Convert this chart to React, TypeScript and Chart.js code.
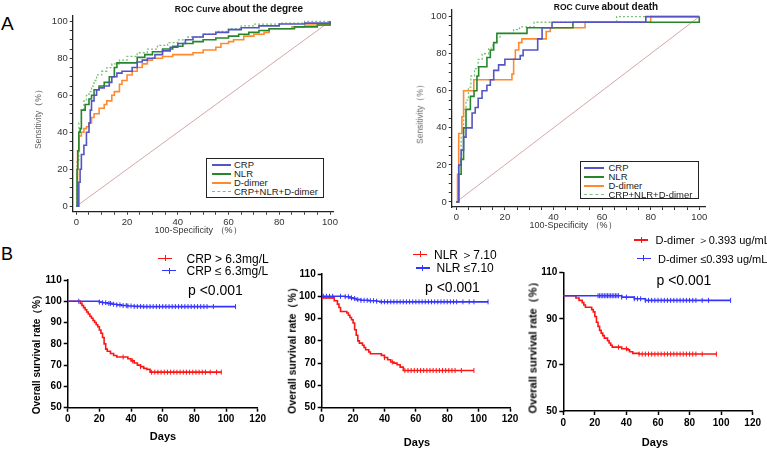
import React, { useEffect, useRef } from "react";
import { Chart, registerables } from "chart.js";
Chart.register(...registerables);

type P = [number, number];

// ---------------- Panel A: ROC curves ----------------
const rocTicks = [0, 5, 10, 15, 20, 25, 30, 35, 40, 45, 50, 55, 60, 65, 70, 75, 80, 85, 90, 95, 100];
const rocSeriesNames = ["CRP", "NLR", "D-dimer", "CRP+NLR+D-dimer"];
const rocDiagonal: P[] = [[0, 0], [100, 100]];

const degreeCRP: P[] = [[0, 0], [1, 13], [1.5, 20], [2, 28], [3, 33], [4, 40], [5, 45], [5.5, 52], [6, 57], [7, 60], [8, 63], [9, 64], [11, 65], [13, 67], [14, 70], [16, 72], [18, 73], [20, 73], [22, 75], [24, 78], [26, 79], [28, 80], [31, 82], [34, 84], [37, 86], [40, 88], [43, 90], [46, 91.5], [50, 93], [55, 94], [60, 95.5], [65, 96.5], [72, 97.5], [80, 98.5], [90, 99], [100, 100]];
const degreeNLR: P[] = [[0, 0], [0.3, 20], [0.6, 30], [1, 40], [1.5, 42], [2, 52], [3.5, 55], [5, 58], [6, 60], [7, 63], [9, 65], [11, 67], [13, 70], [15, 75], [16, 77.5], [23, 77.5], [24, 80.5], [27, 82], [30, 83.5], [34, 85], [38, 86.5], [42, 88], [46, 89], [50, 90], [55, 91], [60, 92], [64, 93], [68, 94], [72, 95], [76, 96], [86, 97], [95, 98], [100, 100]];
const degreeDD: P[] = [[0, 0], [0.5, 30], [1, 38], [2, 40], [3, 42], [4, 43], [5, 45], [6, 48], [7, 50], [9, 53], [11, 55], [12, 57], [14, 60], [15, 62], [17, 66], [18, 68], [20, 71], [22, 73], [24, 75], [26, 77], [28, 79], [30, 80], [34, 81], [38, 82], [46, 83], [50, 84.5], [55, 86], [57, 88], [60, 89], [62, 90], [66, 92], [70, 93], [74, 94], [76, 96], [85, 97], [90, 98], [100, 100]];
const degreeComb: P[] = [[0, 0], [0.3, 25], [1, 45], [2, 52], [3, 57], [4, 60], [5, 62], [6, 65], [7, 68], [8, 71], [10, 73], [12, 75], [14, 77], [17, 79], [20, 81], [24, 83], [28, 85], [32, 87], [36, 88.5], [40, 90], [44, 91.5], [50, 93], [55, 94.5], [60, 96], [65, 97.5], [70, 98.5], [80, 99], [90, 100], [100, 100]];

const deathCRP: P[] = [[0, 0], [1, 20], [2, 28], [3, 35], [4, 40], [6, 40], [6.5, 48], [7.8, 51], [9, 56], [10.6, 60], [12.6, 63], [14, 66], [15.4, 71], [17.4, 74], [20, 77], [25, 77], [26.3, 79], [27.5, 82], [32.5, 82], [33.5, 88], [35.3, 94], [39.4, 97], [77, 97], [78, 100], [100, 100]];
const deathNLR: P[] = [[0, 0], [1, 15], [2, 23], [3, 40], [4, 50], [5.8, 57], [7.3, 60], [8.5, 68], [9.2, 73], [12.6, 78], [14, 82], [15.4, 86], [16.7, 91], [27.7, 91], [29.1, 94], [47, 94], [48, 97], [99, 97], [100, 100]];
const deathDD: P[] = [[0, 0], [0.5, 15], [1, 37], [2.3, 46], [3, 60], [6.5, 60], [7.2, 66], [22.2, 66], [22.9, 69], [23.6, 77], [24.3, 82], [25.7, 86], [27, 88], [36, 88], [37, 92], [38.7, 94], [52, 94], [53, 97], [79, 97], [80, 100], [100, 100]];
const deathComb: P[] = [[0, 0], [1, 20], [2, 35], [3, 50], [4, 55], [5, 62], [6, 68], [7.5, 72], [9, 77], [10.6, 80], [13.3, 83], [15, 86], [16.7, 89], [18, 91], [23.6, 93], [26, 94.5], [32, 97], [65, 97], [66, 100], [100, 100]];

// ---------------- Panel B: Kaplan-Meier curves ----------------
const kmXTicks = [0, 20, 40, 60, 80, 100, 120];

const crpHigh: P[] = [[0, 100], [7, 100], [8, 99], [9, 98], [10, 97], [11, 96], [12, 95], [13, 94], [14, 93], [15, 92], [16, 91], [17, 90], [18, 89], [19, 88], [20, 86.5], [21, 85], [22, 83], [23, 80], [24, 77.5], [25, 76.5], [27, 75.5], [29, 74.5], [31, 73.8], [37, 73.8], [38, 73], [40, 72], [42, 71], [44, 70], [46, 69.3], [48, 68.5], [50, 68], [52, 66.7], [97, 66.7]];
const crpLow: P[] = [[0, 100], [18, 100], [20, 99.6], [22, 99.3], [25, 99], [28, 98.6], [31, 98.3], [34, 98], [38, 97.8], [42, 97.6], [47, 97.5], [106, 97.5]];
const crpHighCens = [35, 41, 46, 53, 55, 57, 59, 61, 63, 65, 67, 69, 71, 73, 75, 77, 79, 81, 83, 85, 87, 90, 94, 97];
const crpLowCens = [7, 20, 22, 24, 26, 27, 29, 31, 33, 35, 37, 38, 40, 42, 44, 46, 48, 50, 52, 54, 56, 58, 60, 62, 64, 66, 68, 70, 72, 74, 76, 78, 80, 82, 84, 86, 88, 92, 106];

const nlrHigh: P[] = [[0, 100], [0.5, 99.3], [7, 99.3], [8, 98], [10, 96.5], [11, 95], [12, 93.2], [15, 93.2], [16, 92.5], [17, 91.5], [18, 90.5], [19, 89.5], [20, 88], [21, 85], [22, 82.5], [23, 80], [24, 79], [26, 78], [27, 77], [28, 76], [30, 75], [31, 74.2], [36, 74.2], [38, 73.5], [40, 72.5], [42, 71.5], [44, 70.5], [46, 70], [48, 69.3], [50, 68.2], [52, 66.7], [97, 66.7]];
const nlrLow: P[] = [[0, 100], [8, 100], [15, 99.8], [18, 99.3], [20, 99], [22, 98.5], [25, 98.2], [30, 98], [35, 97.8], [37, 97.5], [106, 97.5]];
const nlrHighCens = [40, 45, 53, 55, 57, 59, 61, 63, 65, 67, 69, 71, 73, 75, 77, 79, 81, 83, 85, 89, 97];
const nlrLowCens = [1, 3, 5, 7, 12, 15, 17, 19, 21, 23, 25, 27, 29, 31, 33, 35, 38, 40, 42, 44, 46, 48, 50, 52, 54, 56, 58, 60, 62, 64, 66, 68, 70, 72, 74, 76, 78, 80, 82, 84, 86, 90, 94, 97, 106];

const ddHigh: P[] = [[0, 100], [7, 100], [8, 99], [10, 98], [12, 97], [13, 96], [14, 95], [17, 95], [18, 94], [19, 93], [20, 91], [21, 88.5], [22, 86.7], [23, 85], [24, 83.8], [25, 82.7], [26, 81.6], [28, 80.5], [29, 79.5], [30, 78.5], [31, 77.7], [36, 77.7], [37, 77], [41, 76.5], [42, 75.7], [44, 75], [48, 74.7], [97, 74.7]];
const ddLow: P[] = [[0, 100], [36, 100], [37, 99.4], [44, 99.4], [45, 98.7], [51, 98.7], [52, 98], [106, 98]];
const ddHighCens = [35, 40, 48, 50, 52, 54, 56, 58, 60, 62, 64, 66, 68, 70, 72, 74, 76, 78, 80, 82, 84, 88, 97];
const ddLowCens = [22, 23, 24, 25, 26, 27, 28, 29, 30, 31, 32, 33, 34, 35, 37, 40, 45, 47, 49, 52, 54, 56, 58, 60, 62, 64, 66, 68, 70, 72, 74, 76, 78, 80, 82, 84, 88, 92, 106];

// ---------------- styling ----------------
const SANS = "'Liberation Sans', Arial, sans-serif";
const ROC_COLORS = ["#5454c4", "#26862a", "#ff8a2e", "#7cbf7c"];
const KM_RED = "#ff1414";
const KM_BLUE = "#3434ff";

type Area = { l: number; t: number; r: number; b: number };

function stepAt(curve: P[], t: number) {
  let v = curve[0][1];
  for (const [x, y] of curve) if (x <= t) v = y;
  return v;
}

function ChartBox({ area, yw, xh, pad, config }: { area: Area; yw: number; xh: number; pad: number; config: any }) {
  const ref = useRef<HTMLCanvasElement>(null);
  const cl = Math.floor(area.l - yw - pad);
  const ct = Math.floor(area.t - pad);
  const W = Math.ceil(area.r + pad) - cl;
  const H = Math.ceil(area.b + xh + pad) - ct;
  const padding = {
    left: area.l - yw - cl,
    top: area.t - ct,
    right: cl + W - area.r,
    bottom: ct + H - area.b - xh,
  };
  useEffect(() => {
    if (!ref.current) return;
    const cfg = { ...config };
    cfg.options = { ...cfg.options, layout: { padding } };
    cfg.options.scales.x.afterFit = (s: any) => { s.height = xh; };
    cfg.options.scales.y.afterFit = (s: any) => { s.width = yw; };
    const chart = new Chart(ref.current, cfg);
    return () => chart.destroy();
  }, []);
  return (
    <canvas
      ref={ref}
      width={W}
      height={H}
      style={{ position: "absolute", left: cl, top: ct, width: W, height: H }}
    />
  );
}

function rocConfig(series: P[][], xr: [number, number], yr: [number, number]) {
  const datasets: any[] = series.map((s, i) => ({
    label: rocSeriesNames[i],
    data: s.map(([x, y]) => ({ x, y })),
    borderColor: ROC_COLORS[i],
    borderWidth: i === 3 ? 1.3 : 1.6,
    borderDash: i === 3 ? [2, 2] : [],
    pointRadius: 0,
    stepped: true,
    fill: false,
  }));
  datasets.push({
    label: "ref",
    data: rocDiagonal.map(([x, y]) => ({ x, y })),
    borderColor: "#c99090",
    borderWidth: 0.8,
    pointRadius: 0,
    fill: false,
  });
  const axis = (min: number, max: number) => ({
    type: "linear",
    min,
    max,
    afterBuildTicks: (s: any) => { s.ticks = rocTicks.map((v) => ({ value: v })); },
    ticks: {
      autoSkip: false,
      maxRotation: 0,
      padding: 2,
      color: "#333",
      font: { family: SANS, size: 9.5 },
      callback: (v: any) => (v % 20 === 0 ? String(v) : ""),
    },
    grid: { drawOnChartArea: false, drawTicks: true, tickLength: 3, color: "#333", tickWidth: 1 },
    border: { color: "#222", width: 1.3 },
  });
  return {
    type: "line",
    data: { datasets },
    options: {
      animation: false,
      responsive: false,
      devicePixelRatio: 1,
      plugins: { legend: { display: false }, tooltip: { enabled: false } },
      scales: { x: axis(xr[0], xr[1]), y: axis(yr[0], yr[1]) },
    },
  };
}

function kmConfig(red: P[], blue: P[], redC: number[], blueC: number[], yTicks: number[]) {
  const line = (c: P[], color: string) => ({
    data: c.map(([x, y]) => ({ x, y })),
    borderColor: color,
    borderWidth: 1.6,
    pointRadius: 0,
    stepped: true,
    fill: false,
  });
  const cens = (c: P[], ts: number[], color: string) => ({
    data: ts.map((t) => ({ x: t, y: stepAt(c, t) })),
    showLine: false,
    pointStyle: "line",
    pointRotation: 90,
    pointRadius: 2.5,
    pointBorderWidth: 1,
    borderColor: color,
    backgroundColor: color,
  });
  const font = { family: SANS, size: 10, weight: "bold" };
  return {
    type: "line",
    data: {
      datasets: [line(blue, KM_BLUE), line(red, KM_RED), cens(blue, blueC, KM_BLUE), cens(red, redC, KM_RED)],
    },
    options: {
      animation: false,
      responsive: false,
      devicePixelRatio: 1,
      plugins: { legend: { display: false }, tooltip: { enabled: false } },
      scales: {
        x: {
          type: "linear",
          min: 0,
          max: 120,
          afterBuildTicks: (s: any) => { s.ticks = kmXTicks.map((v) => ({ value: v })); },
          ticks: { autoSkip: false, maxRotation: 0, padding: 2, color: "#000", font },
          grid: { drawOnChartArea: false, drawTicks: true, tickLength: 4, color: "#000", tickWidth: 1.5 },
          border: { color: "#000", width: 1.5 },
        },
        y: {
          type: "linear",
          min: 50,
          max: 110,
          afterBuildTicks: (s: any) => { s.ticks = yTicks.map((v) => ({ value: v })); },
          ticks: { autoSkip: false, padding: 2, color: "#000", font },
          grid: { drawOnChartArea: false, drawTicks: true, tickLength: 4, color: "#000", tickWidth: 1.5 },
          border: { color: "#000", width: 1.5 },
        },
      },
    },
  };
}

function Txt({ x, y, children, style, anchor = "center", rotate = false }: any) {
  const tx = anchor === "center" ? "-50%" : "0";
  return (
    <div
      style={{
        position: "absolute",
        left: x,
        top: y,
        whiteSpace: "nowrap",
        lineHeight: 1,
        fontFamily: SANS,
        transform: `translate(${tx}, -50%)${rotate ? " rotate(-90deg)" : ""}`,
        ...style,
      }}
    >
      {children}
    </div>
  );
}

function RocLegend({ x, y, w, h, rows, lineX1, lineX2, textX }: any) {
  return (
    <div style={{ position: "absolute", left: x, top: y, width: w, height: h, border: "1.2px solid #222", background: "#fff", boxSizing: "border-box" }}>
      {rocSeriesNames.map((n, i) => (
        <React.Fragment key={n}>
          <div
            style={{
              position: "absolute",
              left: lineX1 - x,
              top: rows[i] - y - 1,
              width: lineX2 - lineX1,
              height: 0,
              borderTop: i === 3 ? `1.5px dashed ${ROC_COLORS[i]}` : `2px solid ${ROC_COLORS[i]}`,
            }}
          />
          <div
            style={{
              position: "absolute",
              left: textX - x,
              top: rows[i] - y,
              transform: "translateY(-50%)",
              fontFamily: SANS,
              fontSize: 9.5,
              lineHeight: 1,
              color: "#222",
              whiteSpace: "nowrap",
            }}
          >
            {n}
          </div>
        </React.Fragment>
      ))}
    </div>
  );
}

function KmKey({ x1, x2, y, color }: any) {
  const mid = (x1 + x2) / 2;
  return (
    <>
      <div style={{ position: "absolute", left: x1, top: y - 0.75, width: x2 - x1, height: 1.5, background: color }} />
      <div style={{ position: "absolute", left: mid - 0.5, top: y - 3, width: 1, height: 6, background: color }} />
    </>
  );
}

const areaA1: Area = { l: 72.7, t: 16, r: 333, b: 211.7 };
const areaA2: Area = { l: 451.7, t: 10, r: 705, b: 207 };
const areaB1: Area = { l: 67.7, t: 280, r: 257.7, b: 407.7 };
const areaB2: Area = { l: 321.7, t: 274, r: 510, b: 407.7 };
const areaB3: Area = { l: 563.3, t: 272.7, r: 752.7, b: 411 };

export default function App() {
  const kmTitle = (size: number) => ({ fontSize: size, fontWeight: "bold", color: "#000" });
  const kmLeg = { fontSize: 12, color: "#000" };
  const kmLeg3 = { fontSize: 11, color: "#000" };
  const kmP = { fontSize: 14, color: "#000" };
  const days = { fontSize: 11, fontWeight: "bold", color: "#000" };
  const rocY = { fontSize: 8.5, color: "#666" };
  const rocX = { fontSize: 9, color: "#333" };
  return (
    <div style={{ position: "absolute", left: 0, top: 0, width: 767, height: 449, background: "#fff", overflow: "hidden" }}>
      <ChartBox area={areaA1} yw={30} xh={22} pad={10} config={rocConfig([degreeCRP, degreeNLR, degreeDD, degreeComb], [-1.42, 101.18], [-2.92, 102.86])} />
      <ChartBox area={areaA2} yw={30} xh={22} pad={10} config={rocConfig([deathCRP, deathNLR, deathDD, deathComb], [-1.89, 102.35], [-2.7, 103.6])} />
      <ChartBox area={areaB1} yw={32} xh={22} pad={12} config={kmConfig(crpHigh, crpLow, crpHighCens, crpLowCens, [50, 60, 70, 80, 90, 100, 110])} />
      <ChartBox area={areaB2} yw={32} xh={22} pad={12} config={kmConfig(nlrHigh, nlrLow, nlrHighCens, nlrLowCens, [50, 60, 70, 80, 90, 100, 110])} />
      <ChartBox area={areaB3} yw={32} xh={22} pad={12} config={kmConfig(ddHigh, ddLow, ddHighCens, ddLowCens, [50, 70, 90, 110])} />

      <Txt x={1} y={23} anchor="left" style={{ fontSize: 19, color: "#000" }}>A</Txt>
      <Txt x={1} y={254} anchor="left" style={{ fontSize: 18, color: "#000" }}>B</Txt>

      <Txt x={239} y={7} style={{ fontWeight: "bold", color: "#111" }}>
        <span style={{ fontSize: 8.5 }}>ROC Curve </span>
        <span style={{ fontSize: 10 }}>about the degree</span>
      </Txt>
      <Txt x={606} y={5} style={{ fontWeight: "bold", color: "#111" }}>
        <span style={{ fontSize: 8.5 }}>ROC Curve </span>
        <span style={{ fontSize: 10 }}>about death</span>
      </Txt>

      <Txt x={38} y={117} rotate style={rocY}>Sensitivity（%）</Txt>
      <Txt x={420} y={112} rotate style={rocY}>Sensitivity（%）</Txt>
      <Txt x={198} y={229.5} style={rocX}>100-Specificity （%）</Txt>
      <Txt x={573} y={225} style={rocX}>100-Specificity （%）</Txt>

      <RocLegend x={206} y={158} w={118} h={40} rows={[164, 173, 182, 191]} lineX1={211} lineX2={230} textX={233} />
      <RocLegend x={580} y={161} w={119} h={38} rows={[166.7, 175.5, 184.5, 193.5]} lineX1={583} lineX2={603} textX={607.5} />

      <KmKey x1={158} x2={172} y={258.3} color={KM_RED} />
      <KmKey x1={162} x2={176} y={270.7} color={KM_BLUE} />
      <Txt x={186.5} y={258.5} anchor="left" style={kmLeg}>CRP &gt; 6.3mg/L</Txt>
      <Txt x={186.5} y={271} anchor="left" style={kmLeg}>CRP ≤ 6.3mg/L</Txt>
      <Txt x={188} y={290} anchor="left" style={kmP}>p &lt;0.001</Txt>

      <KmKey x1={413} x2={427} y={254.3} color={KM_RED} />
      <KmKey x1={415.7} x2={429.7} y={268} color={KM_BLUE} />
      <Txt x={434} y={254.5} anchor="left" style={kmLeg}>NLR ＞7.10</Txt>
      <Txt x={436.5} y={268.3} anchor="left" style={kmLeg}>NLR ≤7.10</Txt>
      <Txt x={425} y={287} anchor="left" style={kmP}>p &lt;0.001</Txt>

      <KmKey x1={634} x2={648} y={240} color={KM_RED} />
      <KmKey x1={636.7} x2={650.7} y={258.3} color={KM_BLUE} />
      <Txt x={655.5} y={240.3} anchor="left" style={kmLeg3}>D-dimer ＞0.393 ug/mL</Txt>
      <Txt x={658} y={258.6} anchor="left" style={kmLeg3}>D-dimer ≤0.393 ug/mL</Txt>
      <Txt x={656.5} y={280} anchor="left" style={kmP}>p &lt;0.001</Txt>

      <Txt x={37} y={351.5} rotate style={kmTitle(10)}>Overall survival rate（%）</Txt>
      <Txt x={291.7} y={348} rotate style={kmTitle(10.5)}>Overall survival rate（%）</Txt>
      <Txt x={533.3} y={345} rotate style={kmTitle(11)}>Overall survival rate（%）</Txt>
      <Txt x={163} y={436} style={days}>Days</Txt>
      <Txt x={417} y={442} style={days}>Days</Txt>
      <Txt x={655} y={442} style={days}>Days</Txt>
    </div>
  );
}
